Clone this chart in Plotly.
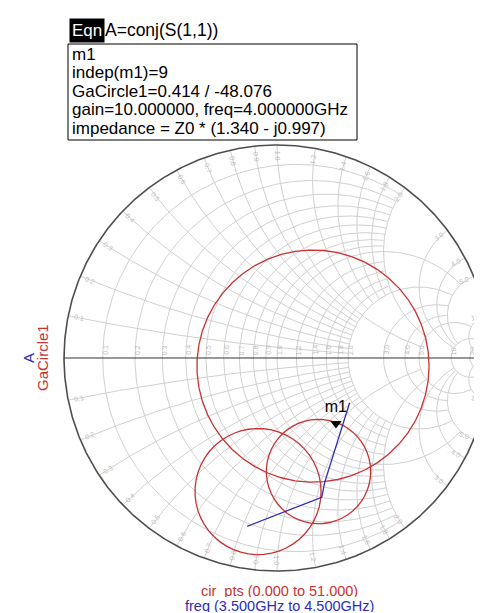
import numpy as np
import plotly.graph_objects as go

W, H = 482, 613

# ---- data (reflection coefficient plane) ----
# GaCircle1 (gain = 10) at the swept freqs: centre re, centre im, radius
circ_freq = ["3.5GHz", "4.0GHz", "4.5GHz"]
circ_cre = [0.169, 0.195, -0.089]
circ_cim = [-0.038, -0.533, -0.627]
circ_rad = [0.545, 0.245, 0.296]
cir_pts = list(range(52))

# A = conj(S(1,1)) vs freq
a_re = [-0.140, 0.210, 0.224, 0.341]
a_im = [-0.790, -0.654, -0.584, -0.210]

# marker m1 (GaCircle1 = 0.414 / -48.076)
m1_mag, m1_ang = 0.414, -48.076

# smith grid values (ADS style) and how far each one is drawn
r_vals = [0.1, 0.2, 0.3, 0.4, 0.5, 0.6, 0.7, 0.8, 0.9, 1.0, 1.2, 1.4, 1.6, 1.8, 2.0, 3.0, 4.0, 5.0, 10, 20, 50]
r_lim = [2, 2, 2, 2, 2, 2, 2, 2, 2, 5, 2, 2, 2, 2, 5, 5, 5, 10, 20, 50, 1e4]
x_vals = [0.1, 0.2, 0.3, 0.4, 0.5, 0.6, 0.7, 0.8, 0.9, 1.0, 1.2, 1.4, 1.6, 1.8, 2.0, 3.0, 4.0, 5.0, 10, 20, 50]
x_lim = [2, 2, 2, 2, 2, 2, 2, 2, 2, 5, 2, 2, 2, 2, 5, 10, 10, 10, 20, 50, 1e4]
r_labels = r_vals[:-1]
x_labels = x_vals[:-1]

RED = "#c83232"
BLUE = "#2d2db4"
GRID = "#d0d0d0"
LAB = "#bdbdbd"
FONT = "Liberation Sans, Arial, sans-serif"

# chart placement in pixels
CX, CY, R = 269, 350, 213


def z2g(z):
    return (z - 1) / (z + 1)


def fmt(v):
    return "%.1f" % v if v < 10 else "%d" % v


fig = go.Figure()


def add_line(g, color, width):
    fig.add_trace(go.Scatter(x=g.real, y=g.imag, mode="lines",
                             line=dict(color=color, width=width), hoverinfo="skip"))


# grid: constant resistance circles
for r, lim in zip(r_vals, r_lim):
    t = np.linspace(-np.arctan(lim), np.arctan(lim), 301)
    add_line(z2g(r + 1j * np.tan(t)), GRID, 1)
# grid: constant reactance arcs
for x, lim in zip(x_vals, x_lim):
    t = np.linspace(0, np.arctan(lim), 301)
    for s in (1, -1):
        add_line(z2g(np.tan(t) + 1j * s * x), GRID, 1)

# outer rim and real axis
th = np.linspace(0, 2 * np.pi, 721)
add_line(np.exp(1j * th), "#4d4d4d", 1.6)
add_line(np.array([-1, 1]) + 0j, "#333333", 1)

# gain circles
ang = np.array(cir_pts) / (len(cir_pts) - 1) * 2 * np.pi
for cre, cim, rad in zip(circ_cre, circ_cim, circ_rad):
    add_line(complex(cre, cim) + rad * np.exp(1j * ang), RED, 1.3)

# A = conj(S11)
add_line(np.array(a_re) + 1j * np.array(a_im), BLUE, 1.3)

# marker m1
gm = m1_mag * np.exp(1j * np.deg2rad(m1_ang))
fig.add_trace(go.Scatter(x=[gm.real], y=[gm.imag], mode="markers+text",
                         marker=dict(symbol="triangle-down", size=10, color="black"),
                         text=["m1"], textposition="top center", cliponaxis=False,
                         textfont=dict(size=16, color="black", family=FONT),
                         hoverinfo="skip"))

ann = []
# resistance labels along the real axis
for r in r_labels:
    ann.append(dict(x=z2g(r).real, y=0, xref="x", yref="y", text=fmt(r), textangle=-90,
                    xanchor="center", yanchor="bottom", xshift=2, yshift=1, showarrow=False,
                    font=dict(size=7, color=LAB, family=FONT)))
# reactance labels just inside the rim
for x in x_labels:
    for s in (1, -1):
        g = z2g(1j * s * x)
        phi = np.degrees(np.angle(g))
        a = -phi
        while a > 90:
            a -= 180
        while a <= -90:
            a += 180
        p = 0.95 * g
        ann.append(dict(x=p.real, y=p.imag, xref="x", yref="y", text=fmt(x), textangle=a,
                        xanchor="center", yanchor="middle", showarrow=False,
                        font=dict(size=7, color=LAB, family=FONT)))


def px(x):
    return x / W


def py(y):
    return 1 - y / H


def note(xp, yp, text, size, color, **kw):
    d = dict(x=px(xp), y=py(yp), xref="paper", yref="paper", text=text, showarrow=False,
             xanchor="left", yanchor="middle", font=dict(size=size, color=color, family=FONT))
    d.update(kw)
    ann.append(d)


note(61, 22, "Eqn", 17, "white", bgcolor="black", borderpad=2)
note(95, 22, "A=conj(S(1,1))", 17.5, "black")
box_lines = ["m1", "indep(m1)=9", "GaCircle1=0.414 / -48.076",
             "gain=10.000000, freq=4.000000GHz", "impedance = Z0 * (1.340 - j0.997)"]
for i, s in enumerate(box_lines):
    note(62, 46 + i * 18.6, s, 17, "black")
note(20, 350, "A", 15, BLUE, textangle=-90, xanchor="center")
note(34, 350, "GaCircle1", 15, RED, textangle=-90, xanchor="center")
note(271, 582, "cir_pts (0.000 to 51.000)", 14.5, RED, xanchor="center", height=13)
note(271, 597, "freq (3.500GHz to 4.500GHz)", 14.5, BLUE, xanchor="center", height=13)

shapes = [dict(type="rect", xref="paper", yref="paper", x0=px(60), x1=px(349), y0=py(36), y1=py(132),
               line=dict(color="black", width=1))]

pad = 0.05
fig.update_layout(
    width=W, height=H,
    margin=dict(l=0, r=0, t=0, b=0),
    paper_bgcolor="white",
    plot_bgcolor="white",
    showlegend=False,
    font=dict(family=FONT),
    annotations=ann,
    shapes=shapes,
    xaxis=dict(range=[-1 - pad, 1], domain=[px(CX - R * (1 + pad)), px(CX + R)],
               visible=False, fixedrange=True),
    yaxis=dict(range=[-1 - pad, 1 + pad], domain=[py(CY + R * (1 + pad)), py(CY - R * (1 + pad))],
               visible=False, fixedrange=True),
)

fig.write_html("out.html")
